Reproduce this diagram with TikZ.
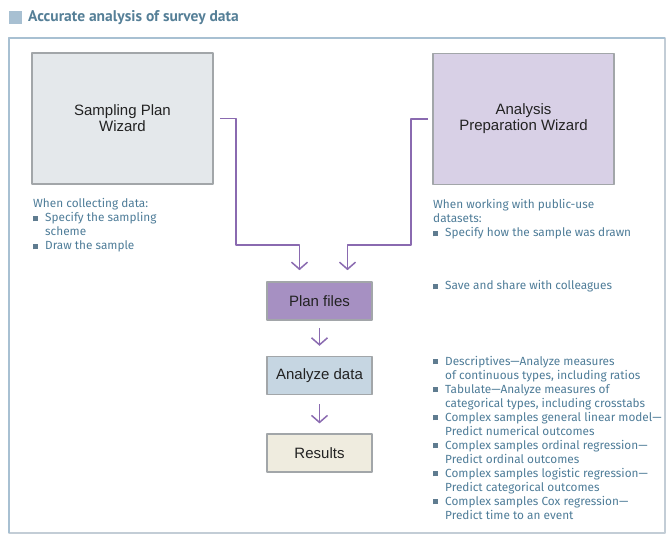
\documentclass[tikz,border=0pt]{standalone}
\usepackage{fontspec}
\setmainfont{Liberation Sans}
\newfontfamily\notefont{Fira Sans}
\newfontfamily\titlefont{PT Sans}
\usetikzlibrary{arrows.meta,positioning}
\definecolor{notec}{HTML}{4E7C98}
\definecolor{titlec}{HTML}{557F97}
\definecolor{bulc}{HTML}{5F7C90}
\definecolor{framec}{HTML}{A8C0D2}
\definecolor{framelt}{HTML}{C3CDD6}
\definecolor{boxline}{HTML}{A2A6A9}
\definecolor{boxtext}{HTML}{222222}
\definecolor{flowc}{HTML}{8A6AB0}
\definecolor{spwfill}{HTML}{E4E8EB}
\definecolor{apwfill}{HTML}{D8D0E6}
\definecolor{pffill}{HTML}{A690C2}
\definecolor{adfill}{HTML}{C6D6E2}
\definecolor{resfill}{HTML}{EFECDF}
\newcommand\bul{\makebox[12pt][l]{\textcolor{bulc}{\rule[0.6pt]{5pt}{5pt}}}}
\newcommand\ind{\hspace*{12pt}}
\begin{document}
\begin{tikzpicture}[x=1pt,y=-1pt,line join=round,
	box/.style={draw=boxline,line width=1.6pt,minimum width=105pt,minimum height=38pt,inner sep=2pt,
		font=\fontsize{15}{16}\selectfont,text=boxtext},
	wizard/.style={box,minimum width=181pt,minimum height=131pt,align=center},
	note/.style={anchor=base west,inner sep=0pt,align=left,text=notec,font=\notefont\fontsize{11.8}{14}\selectfont},
	flow/.style={draw=flowc,line width=1.5pt,-{Straight Barb[length=7pt,width=16pt,line width=1.5pt]}},
	flowstep/.style={flow,line width=1.2pt}]
	\useasboundingbox (0,0) rectangle (666,534);
	% frame and title
	\draw[framelt,line width=1.5pt] (9,38) rectangle (665,533);
	\draw[framec,line width=2.5pt] (9,533) -- (9,38) -- (665,38);
	\node[fill=framec,minimum size=13pt,inner sep=0pt] (tsq) at (15.5,17.5) {};
	\node[anchor=base west,inner sep=0pt,text=titlec,font=\titlefont\bfseries\fontsize{15.5}{18}\selectfont] (ttl) at (28,22) {Accurate analysis of survey data};
	% boxes
	\node[wizard,fill=spwfill] (spw) at (122.5,118.5) {Sampling Plan\\Wizard};
	\node[wizard,fill=apwfill] (apw) at (523.5,119) {Analysis\\Preparation Wizard};
	\node[box,fill=pffill] (pf) at (319.5,301) {Plan files};
	\node[box,fill=adfill,below=35pt of pf] (ad) {Analyze data};
	\node[box,fill=resfill,below=38pt of ad] (res) {Results};
	% notes (anchored at the last baseline)
	\node[note] (n1) at (33,250) {When collecting data:\\ \bul Specify the sampling\\ \ind scheme\\ \bul Draw the sample};
	\node[note] (n2) at (433,237) {When working with public-use\\datasets:\\ \bul Specify how the sample was drawn};
	\node[note] (n3) at (433,290) {\bul Save and share with colleagues};
	\node[note] (n4) at (433,519) {\bul Descriptives—Analyze measures\\ \ind of continuous types, including ratios\\
		\bul Tabulate—Analyze measures of\\ \ind categorical types, including crosstabs\\
		\bul Complex samples general linear model—\\ \ind Predict numerical outcomes\\
		\bul Complex samples ordinal regression—\\ \ind Predict ordinal outcomes\\
		\bul Complex samples logistic regression—\\ \ind Predict categorical outcomes\\
		\bul Complex samples Cox regression—\\ \ind Predict time to an event};
	% connectors
	\coordinate (jl) at ([xshift=-20pt,yshift=36pt]pf.north);
	\coordinate (jr) at ([xshift=28pt,yshift=36pt]pf.north);
	\draw[flow,shorten <=6pt,shorten >=11pt] (spw.east) -- ++(22,0) |- (jl) -- (jl |- pf.north);
	\draw[flow,shorten <=4pt,shorten >=11pt] (apw.west) -- ++(-21,0) |- (jr) -- (jr |- pf.north);
	\draw[flowstep,shorten <=7pt,shorten >=10pt] (pf) -- (ad);
	\draw[flowstep,shorten <=9pt,shorten >=10pt] (ad) -- (res);
\end{tikzpicture}
\end{document}
